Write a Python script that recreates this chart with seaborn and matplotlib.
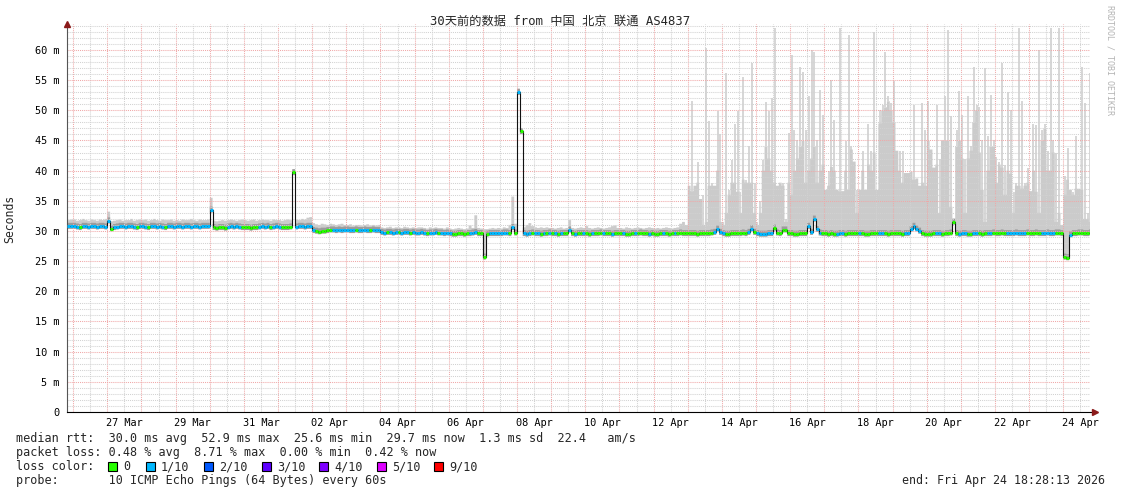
import matplotlib
matplotlib.use("Agg")
import matplotlib.pyplot as plt
import matplotlib.dates as mdates
from matplotlib.patches import Rectangle
from matplotlib.ticker import MultipleLocator
import numpy as np
import pandas as pd
import seaborn as sns

W, H = 1121, 494

# smokeping RRD consolidated to 2 hour steps, first step 25 Mar 20:00
start = "2026-03-25 20:00"

median_rtt = [
    30.8, 30.8,                                                          # 25 Mar
    30.8, 30.7, 30.6, 30.8, 30.8, 30.7, 30.8, 30.8, 30.7, 30.8, 30.8, 30.7,  # 26 Mar
    31.7, 30.4, 30.6, 30.7, 30.8, 30.8, 30.7, 30.8, 30.8, 30.7, 30.6, 30.8,  # 27 Mar
    30.8, 30.7, 30.6, 30.8, 30.8, 30.7, 30.8, 30.7, 30.6, 30.8, 30.8, 30.7,  # 28 Mar
    30.8, 30.8, 30.7, 30.8, 30.8, 30.7, 30.8, 30.8, 30.7, 30.8, 30.8, 30.8,  # 29 Mar
    33.5, 30.6, 30.5, 30.6, 30.6, 30.5, 30.7, 30.8, 30.7, 30.8, 30.7, 30.6,  # 30 Mar
    30.6, 30.6, 30.5, 30.6, 30.6, 30.7, 30.8, 30.7, 30.8, 30.6, 30.7, 30.8,  # 31 Mar
    30.7, 30.6, 30.6, 30.6, 30.7, 39.7, 30.7, 30.8, 30.8, 30.7, 30.8, 30.8,  # 01 Apr
    30.1, 30.0, 29.9, 30.0, 30.0, 30.1, 30.2, 30.2, 30.1, 30.2, 30.1, 30.2,  # 02 Apr
    30.2, 30.1, 30.1, 30.2, 30.1, 30.1, 30.2, 30.1, 30.1, 30.2, 30.1, 30.1,  # 03 Apr
    29.8, 29.7, 29.8, 29.8, 29.7, 29.8, 29.8, 29.7, 29.8, 29.8, 29.7, 29.8,  # 04 Apr
    29.7, 29.7, 29.8, 29.7, 29.6, 29.7, 29.7, 29.8, 29.7, 29.7, 29.6, 29.7,  # 05 Apr
    29.6, 29.5, 29.5, 29.6, 29.6, 29.5, 29.6, 29.6, 29.7, 29.8, 29.6, 29.6,  # 06 Apr
    25.7, 29.5, 29.6, 29.6, 29.6, 29.6, 29.6, 29.7, 29.7, 29.6, 30.6, 29.7,  # 07 Apr
    53.0, 46.5, 29.6, 29.5, 29.6, 29.7, 29.6, 29.6, 29.5, 29.6, 29.6, 29.7,  # 08 Apr
    29.6, 29.6, 29.5, 29.6, 29.6, 29.6, 30.2, 29.6, 29.5, 29.6, 29.6, 29.6,  # 09 Apr
    29.6, 29.5, 29.6, 29.6, 29.6, 29.7, 29.6, 29.6, 29.6, 29.5, 29.6, 29.6,  # 10 Apr
    29.6, 29.6, 29.5, 29.5, 29.6, 29.6, 29.6, 29.7, 29.6, 29.6, 29.5, 29.6,  # 11 Apr
    29.5, 29.5, 29.6, 29.6, 29.6, 29.5, 29.6, 29.6, 29.6, 29.7, 29.6, 29.6,  # 12 Apr
    29.6, 29.6, 29.6, 29.5, 29.6, 29.6, 29.6, 29.6, 29.7, 29.8, 30.4, 29.8,  # 13 Apr
    29.6, 29.5, 29.5, 29.6, 29.6, 29.6, 29.6, 29.7, 29.6, 29.8, 30.4, 29.8,  # 14 Apr
    29.6, 29.5, 29.5, 29.5, 29.6, 29.6, 30.5, 29.7, 29.6, 30.2, 30.2, 29.6,  # 15 Apr
    29.6, 29.5, 29.5, 29.6, 29.6, 29.6, 30.8, 29.8, 32.0, 30.3, 29.7, 29.6,  # 16 Apr
    29.6, 29.5, 29.6, 29.5, 29.5, 29.6, 29.6, 29.5, 29.6, 29.6, 29.6, 29.6,  # 17 Apr
    29.6, 29.6, 29.5, 29.5, 29.6, 29.6, 29.6, 29.6, 29.6, 29.6, 29.5, 29.6,  # 18 Apr
    29.6, 29.6, 29.6, 29.5, 29.6, 29.6, 30.3, 30.8, 30.4, 30.0, 29.6, 29.5,  # 19 Apr
    29.5, 29.5, 29.6, 29.6, 29.6, 29.5, 29.6, 29.6, 29.7, 31.5, 29.6, 29.5,  # 20 Apr
    29.6, 29.6, 29.5, 29.5, 29.6, 29.6, 29.6, 29.5, 29.6, 29.6, 29.6, 29.7,  # 21 Apr
    29.6, 29.6, 29.7, 29.6, 29.6, 29.6, 29.6, 29.7, 29.6, 29.6, 29.6, 29.7,  # 22 Apr
    29.6, 29.6, 29.7, 29.6, 29.6, 29.6, 29.7, 29.6, 29.6, 29.7, 29.7, 29.6,  # 23 Apr
    25.7, 25.6, 29.4, 29.6, 29.6, 29.7, 29.7, 29.6, 29.6, 29.7,              # 24 Apr
]

# slowest of the 10 pings (top of the smoke)
max_rtt = [
    31.8, 31.9,
    31.9, 31.7, 31.8, 32.0, 31.8, 31.7, 31.9, 31.8, 31.7, 31.9, 31.8, 32.0,
    33.2, 31.6, 31.7, 31.8, 31.9, 31.7, 31.8, 31.8, 32.0, 31.7, 31.8, 31.9,
    31.8, 31.9, 31.7, 31.8, 32.0, 31.8, 31.7, 31.9, 31.8, 31.8, 31.9, 31.7,
    31.8, 31.7, 31.9, 31.8, 31.8, 32.0, 31.8, 31.7, 31.9, 31.8, 31.8, 31.9,
    35.5, 31.7, 31.6, 31.7, 31.8, 31.7, 31.8, 31.9, 31.8, 31.7, 31.8, 31.9,
    31.8, 31.7, 31.8, 31.9, 31.7, 31.8, 31.9, 31.8, 31.8, 31.7, 31.9, 31.8,
    31.8, 31.7, 31.8, 31.9, 31.8, 40.0, 31.9, 31.8, 32.0, 31.9, 32.2, 32.3,
    31.3, 31.1, 31.0, 31.2, 31.1, 31.0, 31.2, 31.1, 31.0, 31.1, 31.2, 31.0,
    31.0, 31.1, 30.9, 31.0, 31.0, 30.9, 31.0, 31.1, 30.9, 31.0, 30.9, 31.0,
    30.6, 30.5, 30.6, 30.7, 30.5, 30.6, 30.6, 30.5, 30.7, 30.6, 30.5, 30.6,
    30.5, 30.6, 30.6, 30.5, 30.4, 30.6, 30.5, 30.6, 30.5, 30.5, 30.4, 30.6,
    30.4, 30.3, 30.4, 30.5, 30.4, 30.3, 30.4, 30.9, 30.5, 32.6, 30.5, 30.4,
    30.3, 30.3, 30.4, 30.5, 30.4, 30.5, 30.4, 30.6, 30.5, 31.0, 35.7, 31.2,
    53.6, 47.0, 30.6, 31.0, 31.3, 30.8, 30.6, 30.5, 30.6, 30.5, 30.6, 30.5,
    30.5, 30.4, 30.5, 30.6, 30.4, 30.5, 31.8, 30.5, 30.4, 30.5, 30.6, 30.5,
    30.8, 30.5, 30.4, 30.5, 30.6, 30.5, 30.4, 30.5, 30.6, 30.8, 30.9, 30.5,
    30.5, 30.4, 30.6, 30.5, 30.4, 30.5, 30.6, 30.5, 30.4, 30.5, 30.6, 30.5,
    30.4, 30.5, 30.4, 30.5, 30.6, 30.5, 30.4, 30.5, 30.6, 31.2, 31.5, 31.0,
    37.5, 51.5, 37.5, 41.5, 35.5, 36.0, 60.3, 48.2, 38.0, 37.5, 49.8, 46.0,  # 13 Apr
    31.5, 56.2, 36.8, 41.8, 47.8, 49.8, 36.5, 55.5, 38.5, 44.0, 57.8, 38.0,
    31.5, 35.0, 41.8, 51.3, 49.8, 52.0, 63.6, 37.5, 38.0, 38.0, 32.0, 46.2,
    59.2, 46.7, 45.1, 57.2, 56.3, 46.7, 52.3, 60.0, 59.7, 45.0, 53.4, 49.3,
    36.8, 40.0, 55.0, 48.4, 37.0, 63.6, 36.6, 44.9, 62.5, 44.0, 41.5, 36.8,
    36.8, 43.3, 36.8, 47.8, 43.3, 63.0, 36.8, 50.0, 50.9, 59.7, 52.4, 51.2,
    54.8, 43.3, 43.3, 43.3, 39.6, 39.6, 39.8, 50.9, 38.7, 37.5, 51.2, 46.7,
    51.5, 43.5, 40.5, 50.9, 42.0, 45.0, 52.3, 63.3, 49.0, 32.0, 46.7, 53.2,
    49.3, 42.0, 52.3, 44.0, 57.2, 50.9, 50.6, 45.0, 57.0, 45.8, 52.6, 45.0,
    42.3, 41.5, 57.8, 41.0, 53.0, 50.1, 36.5, 38.0, 63.6, 51.5, 38.0, 40.5,
    36.6, 47.8, 47.5, 60.0, 46.7, 47.8, 43.3, 63.6, 45.0, 43.0, 63.6, 31.0,
    39.1, 43.8, 36.8, 36.5, 45.7, 36.8, 57.2, 51.2, 33.0, 56.2,
]

# second slowest ping from 13 Apr on (the grey floor under the thin outlier spikes)
floor_late = [
    37.5, 36.6, 37.5, 38.0, 35.3, 31.0, 31.5, 37.5, 37.5, 37.5, 40.0, 31.5,  # 13 Apr
    31.0, 33.0, 36.0, 38.0, 38.0, 36.5, 33.0, 38.5, 38.0, 38.0, 38.0, 33.0,
    31.0, 33.0, 40.0, 44.0, 42.0, 40.0, 38.0, 37.5, 38.0, 37.5, 31.5, 38.0,
    36.0, 40.0, 42.0, 44.0, 45.0, 38.0, 40.0, 42.0, 44.0, 38.0, 40.0, 41.0,
    36.8, 37.5, 40.6, 40.0, 36.8, 36.6, 36.6, 40.0, 36.8, 43.5, 41.5, 33.0,
    36.8, 40.0, 36.8, 41.0, 40.0, 43.0, 36.8, 47.8, 50.0, 50.5, 51.5, 50.0,
    48.0, 43.3, 40.0, 38.0, 39.6, 39.6, 39.8, 38.5, 38.7, 37.5, 38.0, 37.5,
    45.0, 43.5, 40.5, 41.0, 33.0, 45.0, 45.0, 45.0, 34.0, 31.5, 44.0, 45.0,
    42.0, 33.0, 42.0, 43.3, 48.0, 50.0, 43.0, 36.8, 31.5, 40.0, 44.0, 44.0,
    38.0, 41.0, 40.5, 36.0, 40.0, 39.5, 33.0, 37.5, 37.5, 37.0, 37.5, 38.0,
    36.6, 40.0, 36.5, 33.0, 45.0, 47.0, 40.0, 40.0, 43.0, 31.5, 33.0, 31.0,
    36.0, 38.5, 36.8, 36.0, 37.0, 37.0, 36.8, 32.0, 32.0, 31.5,              # 24 Apr
]

# lost pings out of 10 for each step, one string per day
loss_rows = [
    "11",
    "110111111111", "101111111101", "110111110111", "111111111111",
    "100000111110", "000001111011", "100000111111", "100000011111",
    "111011110111", "110111011101", "111101110111", "100000011100",
    "001111111010", "101110110101", "010100101001", "001000100100",
    "010001000010", "000100010000", "000000000111", "100000000110",
    "111111000000", "000000111110", "000011100000", "100000011000",
    "000011111100", "000110000001", "110011000110", "000011111110",
    "000011111000",
    "0010000000",
]

loss_levels = [0, 1, 2, 3, 4, 5, 9]
loss_labels = ["0", "1/10", "2/10", "3/10", "4/10", "5/10", "9/10"]
loss_colors = {0: "#26ff00", 1: "#00b8ff", 2: "#0059ff", 3: "#5e00ff",
               4: "#7e00ff", 5: "#dd00ff", 9: "#ff0000"}

x_tick_labels = ["27 Mar", "29 Mar", "31 Mar", "02 Apr", "04 Apr", "06 Apr",
                 "08 Apr", "10 Apr", "12 Apr", "14 Apr", "16 Apr", "18 Apr",
                 "20 Apr", "22 Apr", "24 Apr"]
y_tick_labels = ["0", "5 m", "10 m", "15 m", "20 m", "25 m", "30 m",
                 "35 m", "40 m", "45 m", "50 m", "55 m", "60 m"]

loss = [int(c) for c in "".join(loss_rows)]
n_early = len(median_rtt) - len(floor_late)
floor_rtt = max_rtt[:n_early] + floor_late
assert len(median_rtt) == len(max_rtt) == len(loss) == len(floor_rtt)


def num(ts):
    return mdates.date2num(pd.DatetimeIndex(ts).to_pydatetime())


edges = num(pd.date_range(start, periods=len(median_rtt) + 1, freq="2h"))
mids = (edges[:-1] + edges[1:]) / 2
med = np.array(median_rtt)
top = np.array(max_rtt)
flo = np.array(floor_rtt)

sns.set_style("white")
plt.rcParams["font.family"] = ["DejaVu Sans Mono", "Noto Sans CJK SC"]

fig = plt.figure(figsize=(W / 100, H / 100), dpi=100)
ax = fig.add_axes([67 / W, (H - 412) / H, 1023 / W, 388 / H])

# smoke: grey floor, thin outlier spikes, darker band around the median
smoke = "#cbcbcb"
ax.stairs(flo, edges, baseline=med, fill=True, color=smoke, lw=0, zorder=1)
spike = top > flo + 0.3
ax.vlines(mids[spike], flo[spike], top[spike], color=smoke, lw=1.1, zorder=1)
ax.stairs(med + 0.55, edges, baseline=med - 0.45, fill=True, color="#9c9c9c", lw=0, zorder=1.1)

# median: thin black line, thick segments coloured by loss
sns.lineplot(x=edges[:-1], y=median_rtt, drawstyle="steps-post", color="#111111",
             lw=0.8, estimator=None, ax=ax, zorder=2)
ax.hlines(median_rtt, edges[:-1], edges[1:], colors=[loss_colors[l] for l in loss],
          lw=2.2, zorder=3)

ax.set_xlim(num(["2026-03-25 19:40"])[0], num(["2026-04-24 18:45"])[0])
ax.set_ylim(0, 64.3)

# grid: red at midnight / every 5 ms, grey at noon / every 1 ms
midnights = pd.date_range("2026-03-26", "2026-04-24", freq="D")
noons = pd.date_range("2026-03-26 12:00", "2026-04-24 12:00", freq="D")
label_at = dict(zip(pd.date_range("2026-03-27 12:00", periods=len(x_tick_labels), freq="2D"),
                    x_tick_labels))
ax.set_xticks(num(midnights), labels=[""] * len(midnights))
ax.set_xticks(num(noons), labels=[label_at.get(d, "") for d in noons], minor=True)
ax.set_yticks(range(0, 61, 5), labels=y_tick_labels)
ax.yaxis.set_minor_locator(MultipleLocator(1))

ax.set_axisbelow("line")
dots = (0, (1, 1))
ax.grid(True, which="major", color="#f0a8a8", ls=dots, lw=0.75)
ax.grid(True, which="minor", color="#d2d2d2", ls=dots, lw=0.75)
ax.tick_params(axis="both", which="both", length=0, labelsize=7.4, labelcolor="#000000")
ax.tick_params(axis="x", which="minor", pad=4.5)
ax.tick_params(axis="y", pad=5.5)
ax.set_xlabel("")
ax.set_ylabel("")

for s in ["top", "right"]:
    ax.spines[s].set_visible(False)
ax.spines["left"].set_color("#555555")
ax.spines["left"].set_linewidth(0.8)
ax.spines["bottom"].set_color("#000000")
ax.spines["bottom"].set_linewidth(0.8)

# axis arrows
ax.plot([0], [1.0], marker="^", ms=4.5, color="#8b1a1a", transform=ax.transAxes,
        clip_on=False, zorder=5)
ax.plot([1.0, 1.004], [0, 0], color="#000000", lw=0.8, transform=ax.transAxes,
        clip_on=False, zorder=5)
ax.plot([1.005], [0], marker=">", ms=4.5, color="#8b1a1a", transform=ax.transAxes,
        clip_on=False, zorder=5)

# title, axis label, watermark
fig.text(560.5 / W, 1 - 21 / H, "30天前的数据 from 中国 北京 联通 AS4837",
         ha="center", va="center", fontsize=8.8)
fig.text(10 / W, 1 - 219 / H, "Seconds", rotation=90, ha="center", va="center", fontsize=8.3)
fig.text(1110 / W, 1 - 60 / H, "RRDTOOL / TOBI OETIKER", rotation=270,
         ha="center", va="center", fontsize=6, color="#b4b4b4")

# legend block
fs = 8.45
fig.text(16 / W, 1 - 438.5 / H,
         "median rtt:  30.0 ms avg  52.9 ms max  25.6 ms min  29.7 ms now  1.3 ms sd  22.4   am/s",
         va="center", fontsize=fs)
fig.text(16 / W, 1 - 452.5 / H,
         "packet loss: 0.48 % avg  8.71 % max  0.00 % min  0.42 % now",
         va="center", fontsize=fs)
fig.text(16 / W, 1 - 466.5 / H, "loss color:", va="center", fontsize=fs)
box_x = [108, 146, 204, 262, 319, 377, 434]
for bx, lab, lv in zip(box_x, loss_labels, loss_levels):
    fig.add_artist(Rectangle((bx / W, 1 - (466.5 + 4.5) / H), 9 / W, 9 / H,
                             transform=fig.transFigure, facecolor=loss_colors[lv],
                             edgecolor="#000000", lw=0.8))
    fig.text((bx + 15) / W, 1 - 466.5 / H, lab, va="center", fontsize=fs)
fig.text(16 / W, 1 - 480.5 / H, "probe:       10 ICMP Echo Pings (64 Bytes) every 60s",
         va="center", fontsize=fs)
fig.text(1105 / W, 1 - 480.5 / H, "end: Fri Apr 24 18:28:13 2026",
         ha="right", va="center", fontsize=8.4)

fig.savefig("out.png", dpi=100)
